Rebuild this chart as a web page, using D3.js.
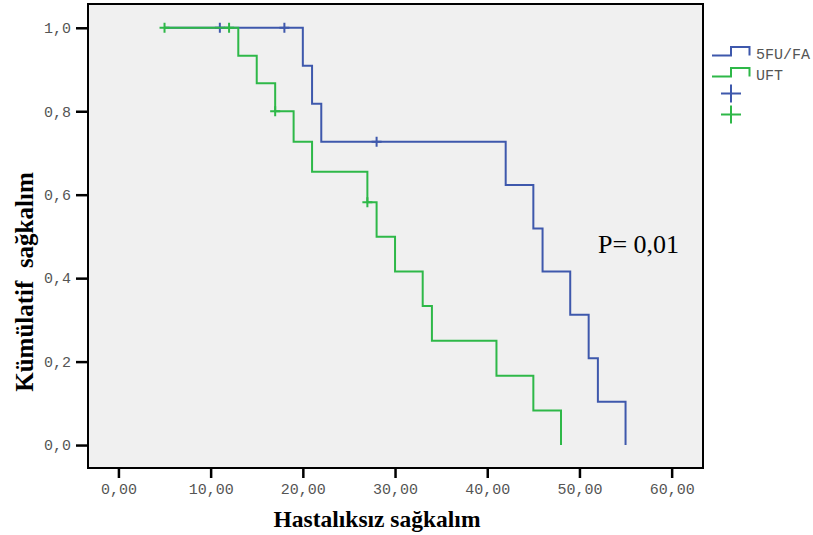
<!DOCTYPE html>
<html>
  <head>
    <meta charset="utf-8">
    <title>Kaplan-Meier</title>
    <script src="https://d3js.org/d3.v7.min.js"></script>
    <style>
      body { margin: 0; background: #fff; }
    </style>
  </head>
  <body>
    <div id="chart"></div>
    <script>
      // Survival steps
      var groups = ["5FU/FA", "UFT"];
      var fuTimes = [5, 20, 21, 22, 42, 45, 46, 49, 51, 52, 55];
      var fuSurv = [1, 0.909, 0.818, 0.727, 0.623, 0.519, 0.416, 0.312, 0.208, 0.104, 0];
      var fuCensored = [11, 18, 28];
      var uftTimes = [5, 13, 15, 17, 19, 21, 27, 28, 30, 33, 34, 41, 45, 48];
      var uftSurv = [1, 0.933, 0.867, 0.8, 0.727, 0.655, 0.582, 0.499, 0.416, 0.333, 0.25, 0.166, 0.083, 0];
      var uftCensored = [5, 12, 17, 27];
      var xTicks = [0, 10, 20, 30, 40, 50, 60];
      var yTicks = [0, 0.2, 0.4, 0.6, 0.8, 1.0];

      var width = 813, height = 535;
      var plot = {left: 88, top: 4, right: 703, bottom: 468};
      var colors = {"5FU/FA": "#3e58ac", "UFT": "#2eb848"};

      var svg = d3.select("#chart")
        .append("svg")
          .attr("width", width)
          .attr("height", height);

      var x = d3.scaleLinear().domain([-3.3, 63.4]).range([plot.left, plot.right]);
      var y = d3.scaleLinear().domain([-0.055, 1.057]).range([plot.bottom, plot.top]);

      // plot background
      svg.append("rect")
        .attr("x", plot.left).attr("y", plot.top)
        .attr("width", plot.right - plot.left)
        .attr("height", plot.bottom - plot.top)
        .attr("fill", "#f0f0f0");

      // Y axis
      var yAxis = svg.append("g")
        .attr("transform", "translate(" + plot.left + ",0)")
        .call(d3.axisLeft(y).tickValues(yTicks).tickSize(12).tickPadding(5)
          .tickFormat(function(d) { return d.toFixed(1).replace(".", ","); }));
      yAxis.select(".domain").remove();

      // X axis
      var xAxis = svg.append("g")
        .attr("transform", "translate(0," + plot.bottom + ")")
        .call(d3.axisBottom(x).tickValues(xTicks).tickSize(10).tickPadding(5)
          .tickFormat(function(d) { return d.toFixed(2).replace(".", ","); }));
      xAxis.select(".domain").remove();

      svg.selectAll(".tick line").attr("stroke", "#000").attr("stroke-width", 2.5);
      svg.selectAll(".tick text")
        .attr("fill", "#555")
        .style("font-family", "'Liberation Mono', 'Courier New', monospace")
        .style("font-size", "15px");

      // Survival curves
      var line = d3.line()
        .x(function(d) { return x(d[0]); })
        .y(function(d) { return y(d[1]); })
        .curve(d3.curveStepAfter);

      function stepValue(times, surv, t) {
        var v = surv[0];
        for (var i = 0; i < times.length; i++) {
          if (times[i] <= t) v = surv[i];
        }
        return v;
      }

      var series = [
        {name: "5FU/FA", times: fuTimes, surv: fuSurv, cens: fuCensored},
        {name: "UFT", times: uftTimes, surv: uftSurv, cens: uftCensored}
      ];

      series.forEach(function(s) {
        var pts = s.times.map(function(t, i) { return [t, s.surv[i]]; });
        svg.append("path")
          .datum(pts)
          .attr("d", line)
          .attr("fill", "none")
          .attr("stroke", colors[s.name])
          .attr("stroke-width", 2);

        svg.selectAll(null)
          .data(s.cens)
          .enter()
          .append("path")
            .attr("d", function(t) {
              var cx = x(t), cy = y(stepValue(s.times, s.surv, t));
              return "M" + (cx - 5) + "," + cy + "H" + (cx + 5) +
                     "M" + cx + "," + (cy - 5) + "V" + (cy + 5);
            })
            .attr("stroke", colors[s.name])
            .attr("stroke-width", 2)
            .attr("fill", "none");
      });

      // frame
      svg.append("rect")
        .attr("x", plot.left).attr("y", plot.top)
        .attr("width", plot.right - plot.left)
        .attr("height", plot.bottom - plot.top)
        .attr("fill", "none")
        .attr("stroke", "#000")
        .attr("stroke-width", 2);

      // P value
      svg.append("text")
        .attr("x", 598).attr("y", 253)
        .style("font-family", "'Liberation Serif', 'Times New Roman', serif")
        .style("font-size", "26px")
        .text("P= 0,01");

      // Legend
      var legend = svg.append("g");
      groups.forEach(function(g, i) {
        var ly = 55.5 + i * 21;
        legend.append("path")
          .attr("d", "M712," + ly + "H731V" + (ly - 8.5) + "H749.5V" + ly)
          .attr("fill", "none")
          .attr("stroke", colors[g])
          .attr("stroke-width", 2);
        legend.append("text")
          .attr("x", 756).attr("y", ly + 3)
          .attr("fill", "#555")
          .style("font-family", "'Liberation Mono', 'Courier New', monospace")
          .style("font-size", "15px")
          .text(g);
        var cy = 93.5 + i * 21;
        legend.append("path")
          .attr("d", "M721," + cy + "H741M731," + (cy - 9) + "V" + (cy + 9))
          .attr("fill", "none")
          .attr("stroke", colors[g])
          .attr("stroke-width", 2);
      });

      // axis titles
      svg.append("text")
        .attr("x", 377).attr("y", 527)
        .attr("text-anchor", "middle")
        .style("font-family", "'Liberation Serif', 'Times New Roman', serif")
        .style("font-weight", "bold")
        .style("font-size", "23.5px")
        .text("Hastalıksız sağkalım");

      svg.append("text")
        .attr("transform", "translate(33,282) rotate(-90)")
        .attr("text-anchor", "middle")
        .style("font-family", "'Liberation Serif', 'Times New Roman', serif")
        .style("font-weight", "bold")
        .style("font-size", "25px")
        .style("white-space", "pre")
        .text("Kümülatif  sağkalım");
    </script>
  </body>
</html>
